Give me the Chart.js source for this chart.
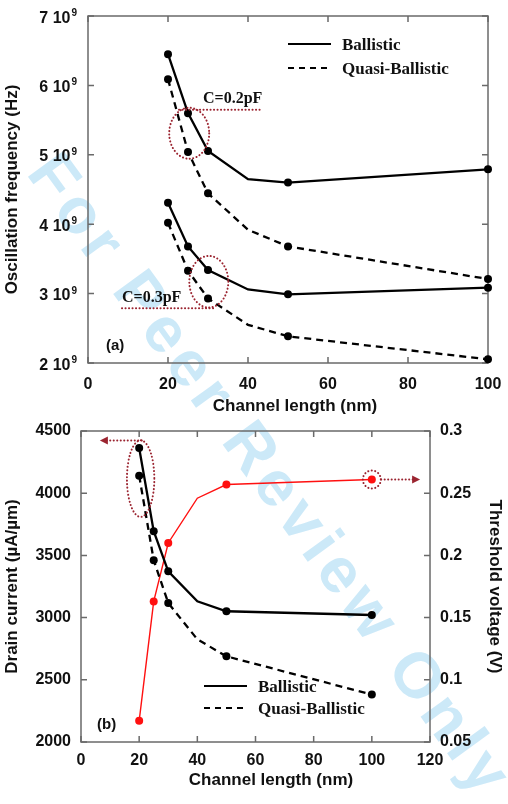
<!DOCTYPE html>
<html lang="en">
<head>
<meta charset="UTF-8">
<title>Oscillation frequency / drain current vs channel length</title>
<script src="https://cdn.jsdelivr.net/npm/chart.js"></script>
<style>
  body { margin: 0; background: #fff; }
  #quadro { position: relative; width: 508px; height: 804px; overflow: hidden; }
  #marca {
    position: absolute; left: 272px; top: 475px;
    transform: translate(-50%, -50%) rotate(54deg);
    font: bold 64px "Liberation Sans", Arial, sans-serif;
    letter-spacing: 6px; color: #cce9f8; white-space: nowrap;
  }
  canvas { position: absolute; left: 0; }
</style>
</head>
<body>
<div id="quadro">
  <div id="marca">For Peer Review Only</div>
  <canvas id="grafico1" width="508" height="418" style="top:0"></canvas>
  <canvas id="grafico2" width="508" height="386" style="top:418px"></canvas>
</div>
<script>
// channel length (nm)
const comprimento = [20, 25, 30, 40, 50, 100];

// (a) oscillation frequency, in units of 10^9 Hz
const freqBal02   = [6.45, 5.60, 5.055, 4.65, 4.60, 4.79];
const freqQuasi02 = [6.09, 5.04, 4.445, 3.92, 3.68, 3.21];
const freqBal03   = [4.31, 3.68, 3.34, 3.06, 2.99, 3.085];
const freqQuasi03 = [4.02, 3.33, 2.93, 2.55, 2.385, 2.053];

// (b) drain current (uA/um) and threshold voltage (V)
const idBal   = [4363, 3694, 3372, 3131, 3051, 3021];
const idQuasi = [4141, 3461, 3117, 2825, 2689, 2381];
const vth     = [0.067, 0.163, 0.21, 0.246, 0.257, 0.261];

// tick labels
const ticksXa = [0, 20, 40, 60, 80, 100];
const ticksYa = [2, 3, 4, 5, 6, 7];
const ticksXb = [0, 20, 40, 60, 80, 100, 120];
const ticksYb = [2000, 2500, 3000, 3500, 4000, 4500];
const ticksY2b = [0.05, 0.1, 0.15, 0.2, 0.25, 0.3];

const pontos = arr => comprimento.map((c, i) => ({ x: c, y: arr[i] }));
const raio = [4, 4, 4, 0, 4, 4]; // no marker at 40 nm

const FONTE = '"Liberation Sans", Arial, sans-serif';
const SERIF = '"Liberation Serif", "Times New Roman", serif';
const VINHO = '#9b2430';
const TXT = '#111';

function serie(dados, tracejado, cor, larg) {
  return {
    data: pontos(dados),
    borderColor: cor || '#000',
    backgroundColor: cor || '#000',
    borderWidth: larg || 2.3,
    borderDash: tracejado ? [7, 5] : [],
    pointRadius: raio,
    pointBorderWidth: 0,
    pointHoverRadius: raio,
    tension: 0,
    clip: false
  };
}

// frame with inward ticks on all four sides
const moldura = {
  id: 'moldura',
  beforeDatasetsDraw(chart, args, o) {
    const { ctx, chartArea: a, scales } = chart;
    ctx.save();
    ctx.strokeStyle = '#6a6a6a';
    ctx.lineWidth = 1.5;
    ctx.strokeRect(a.left, a.top, a.right - a.left, a.bottom - a.top);
    const t = 6;
    ctx.beginPath();
    o.xTicks.forEach(v => {
      const px = scales.x.getPixelForValue(v);
      ctx.moveTo(px, a.bottom); ctx.lineTo(px, a.bottom - t);
      ctx.moveTo(px, a.top); ctx.lineTo(px, a.top + t);
    });
    o.yTicks.forEach(v => {
      const py = scales.y.getPixelForValue(v);
      ctx.moveTo(a.left, py); ctx.lineTo(a.left + t, py);
      if (!o.y2Ticks) { ctx.moveTo(a.right, py); ctx.lineTo(a.right - t, py); }
    });
    if (o.y2Ticks) o.y2Ticks.forEach(v => {
      const py = scales.y2.getPixelForValue(v);
      ctx.moveTo(a.right, py); ctx.lineTo(a.right - t, py);
    });
    ctx.stroke();
    ctx.restore();
  }
};

function pontilhado(ctx) {
  ctx.strokeStyle = VINHO;
  ctx.lineWidth = 2;
  ctx.lineCap = 'round';
  ctx.setLineDash([0.1, 3.4]);
}
function seta(ctx, x, y, dir) {
  ctx.save();
  ctx.setLineDash([]);
  ctx.fillStyle = VINHO;
  ctx.beginPath();
  ctx.moveTo(x, y);
  ctx.lineTo(x - dir * 8, y - 4);
  ctx.lineTo(x - dir * 8, y + 4);
  ctx.closePath();
  ctx.fill();
  ctx.restore();
}
function legenda(ctx, x, y1, y2) {
  ctx.save();
  ctx.strokeStyle = '#000';
  ctx.lineWidth = 2;
  ctx.beginPath(); ctx.moveTo(x, y1); ctx.lineTo(x + 43, y1); ctx.stroke();
  ctx.setLineDash([6, 5]);
  ctx.beginPath(); ctx.moveTo(x, y2); ctx.lineTo(x + 40, y2); ctx.stroke();
  ctx.fillStyle = TXT;
  ctx.font = 'bold 17px ' + SERIF;
  ctx.textBaseline = 'middle';
  ctx.fillText('Ballistic', x + 54, y1 + 2);
  ctx.fillText('Quasi-Ballistic', x + 54, y2 + 2);
  ctx.restore();
}
function tituloVertical(ctx, txt, x, y, ang) {
  ctx.save();
  ctx.translate(x, y);
  ctx.rotate(ang);
  ctx.font = 'bold 17px ' + FONTE;
  ctx.textAlign = 'center';
  ctx.textBaseline = 'middle';
  ctx.fillStyle = TXT;
  ctx.fillText(txt, 0, 0);
  ctx.restore();
}

// ---------- (a) ----------
const textosA = {
  id: 'textosA',
  afterDraw(chart) {
    const { ctx, chartArea: a, scales: { x, y } } = chart;
    ctx.save();
    ctx.fillStyle = TXT;
    // x tick labels
    ctx.font = 'bold 16px ' + FONTE;
    ctx.textAlign = 'center';
    ctx.textBaseline = 'middle';
    ticksXa.forEach(v => ctx.fillText(String(v), x.getPixelForValue(v), a.bottom + 22));
    // y tick labels "n 10^9"
    ticksYa.forEach(v => {
      const py = y.getPixelForValue(v);
      ctx.font = 'bold 16px ' + FONTE;
      ctx.textAlign = 'left';
      ctx.textBaseline = 'alphabetic';
      const base = v + ' 10';
      const wb = ctx.measureText(base).width;
      ctx.font = 'bold 10px ' + FONTE;
      const ws = ctx.measureText('9').width;
      const x0 = a.left - 11 - ws - 1 - wb;
      ctx.fillText('9', x0 + wb + 1, py);
      ctx.font = 'bold 16px ' + FONTE;
      ctx.fillText(base, x0, py + 6.5);
    });
    // axis titles
    ctx.font = 'bold 17px ' + FONTE;
    ctx.textAlign = 'center';
    ctx.textBaseline = 'middle';
    ctx.fillText('Channel length (nm)', 295, a.bottom + 43);
    tituloVertical(ctx, 'Oscillation frequency (Hz)', 12, (a.top + a.bottom) / 2, -Math.PI / 2);
    // panel label
    ctx.font = 'bold 15px ' + FONTE;
    ctx.textAlign = 'left';
    ctx.fillText('(a)', x.getPixelForValue(4.5), y.getPixelForValue(2.24));
    // annotations
    pontilhado(ctx);
    ctx.beginPath();
    ctx.ellipse(x.getPixelForValue(25.3), y.getPixelForValue(5.31), 20, 25.5, 0, 0, 2 * Math.PI);
    ctx.stroke();
    ctx.beginPath();
    ctx.moveTo(x.getPixelForValue(22.75), y.getPixelForValue(5.65));
    ctx.lineTo(x.getPixelForValue(43.75), y.getPixelForValue(5.65));
    ctx.stroke();
    ctx.beginPath();
    ctx.ellipse(x.getPixelForValue(30.2), y.getPixelForValue(3.171), 19.5, 25.8, 0, 0, 2 * Math.PI);
    ctx.stroke();
    ctx.beginPath();
    ctx.moveTo(x.getPixelForValue(8.5), y.getPixelForValue(2.788));
    ctx.lineTo(x.getPixelForValue(32), y.getPixelForValue(2.788));
    ctx.stroke();
    ctx.setLineDash([]);
    ctx.font = 'bold 16px ' + SERIF;
    ctx.textBaseline = 'alphabetic';
    ctx.fillText('C=0.2pF', x.getPixelForValue(28.75), y.getPixelForValue(5.746));
    ctx.fillText('C=0.3pF', x.getPixelForValue(8.5), y.getPixelForValue(2.879));
    ctx.restore();
    legenda(ctx, 288, 44, 68);
  }
};

new Chart(document.getElementById('grafico1'), {
  type: 'line',
  data: {
    datasets: [
      serie(freqBal02, false),
      serie(freqQuasi02, true),
      serie(freqBal03, false),
      serie(freqQuasi03, true)
    ]
  },
  options: {
    responsive: false,
    animation: false,
    devicePixelRatio: 1,
    layout: { autoPadding: false, padding: { left: 0, right: 20, top: 16, bottom: 0 } },
    plugins: {
      legend: { display: false },
      tooltip: { enabled: false },
      moldura: { xTicks: ticksXa, yTicks: ticksYa }
    },
    scales: {
      x: {
        type: 'linear', min: 0, max: 100,
        grid: { display: false }, border: { display: false },
        ticks: { display: false },
        afterFit: s => { s.height = 55; }
      },
      y: {
        type: 'linear', min: 2, max: 7,
        grid: { display: false }, border: { display: false },
        ticks: { display: false },
        afterFit: s => { s.width = 88; }
      }
    }
  },
  plugins: [moldura, textosA]
});

// ---------- (b) ----------
const textosB = {
  id: 'textosB',
  afterDraw(chart) {
    const { ctx, chartArea: a, scales: { x, y, y2 } } = chart;
    ctx.save();
    ctx.fillStyle = TXT;
    ctx.font = 'bold 16px ' + FONTE;
    ctx.textBaseline = 'middle';
    ctx.textAlign = 'center';
    ticksXb.forEach(v => ctx.fillText(String(v), x.getPixelForValue(v), a.bottom + 19));
    ctx.textAlign = 'right';
    ticksYb.forEach(v => ctx.fillText(String(v), a.left - 10, y.getPixelForValue(v)));
    ctx.textAlign = 'left';
    ticksY2b.forEach(v => ctx.fillText(String(v), a.right + 10, y2.getPixelForValue(v)));
    // axis titles
    ctx.font = 'bold 17px ' + FONTE;
    ctx.textAlign = 'center';
    ctx.fillText('Channel length (nm)', 271, a.bottom + 38);
    tituloVertical(ctx, 'Drain current (\u00b5A/\u00b5m)', 12, (a.top + a.bottom) / 2, -Math.PI / 2);
    tituloVertical(ctx, 'Threshold voltage (V)', 495, (a.top + a.bottom) / 2, Math.PI / 2);
    // panel label
    ctx.font = 'bold 15px ' + FONTE;
    ctx.textAlign = 'left';
    ctx.fillText('(b)', x.getPixelForValue(5.5), y.getPixelForValue(2134));
    // annotations
    pontilhado(ctx);
    ctx.beginPath();
    ctx.ellipse(x.getPixelForValue(20.5), y.getPixelForValue(4117), 13.7, 38.3, 0, 0, 2 * Math.PI);
    ctx.stroke();
    const ya = y.getPixelForValue(4423);
    ctx.beginPath();
    ctx.moveTo(x.getPixelForValue(20.9), ya);
    ctx.lineTo(x.getPixelForValue(6.5) + 6, ya);
    ctx.stroke();
    seta(ctx, x.getPixelForValue(6.5), ya, -1);
    const yc = y2.getPixelForValue(vth[5]);
    ctx.beginPath();
    ctx.arc(x.getPixelForValue(100), yc, 9, 0, 2 * Math.PI);
    ctx.stroke();
    ctx.beginPath();
    ctx.moveTo(x.getPixelForValue(103.2), yc);
    ctx.lineTo(x.getPixelForValue(116.6) - 6, yc);
    ctx.stroke();
    seta(ctx, x.getPixelForValue(116.6), yc, 1);
    ctx.restore();
    legenda(ctx, 204, 268, 290);
  }
};

new Chart(document.getElementById('grafico2'), {
  type: 'line',
  data: {
    datasets: [
      serie(idBal, false),
      serie(idQuasi, true),
      Object.assign(serie(vth, false, '#ff1010', 1.4), { yAxisID: 'y2' })
    ]
  },
  options: {
    responsive: false,
    animation: false,
    devicePixelRatio: 1,
    layout: { autoPadding: false, padding: { left: 0, right: 0, top: 13, bottom: 0 } },
    plugins: {
      legend: { display: false },
      tooltip: { enabled: false },
      moldura: { xTicks: ticksXb, yTicks: ticksYb, y2Ticks: ticksY2b }
    },
    scales: {
      x: {
        type: 'linear', min: 0, max: 120,
        grid: { display: false }, border: { display: false },
        ticks: { display: false },
        afterFit: s => { s.height = 62; }
      },
      y: {
        type: 'linear', position: 'left', min: 2000, max: 4500,
        grid: { display: false }, border: { display: false },
        ticks: { display: false },
        afterFit: s => { s.width = 81; }
      },
      y2: {
        type: 'linear', position: 'right', min: 0.05, max: 0.3,
        grid: { display: false }, border: { display: false },
        ticks: { display: false },
        afterFit: s => { s.width = 78; }
      }
    }
  },
  plugins: [moldura, textosB]
});
</script>
</body>
</html>
